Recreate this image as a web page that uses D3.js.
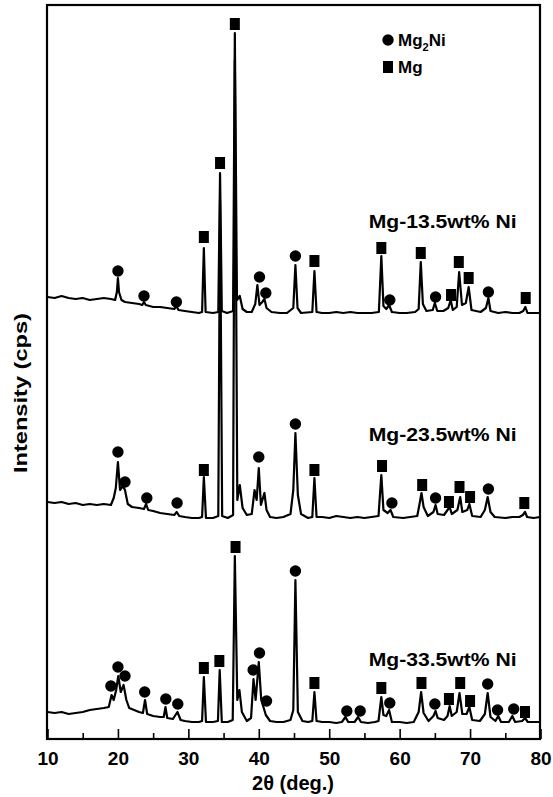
<!DOCTYPE html>
<html>
<head>
<meta charset="utf-8">
<script src="https://cdn.jsdelivr.net/npm/d3@7"></script>
<style>
  body { margin: 0; background: #fff; }
  svg { display: block; }
  text { font-family: "Liberation Sans", Arial, sans-serif; font-weight: bold; fill: #000; }
</style>
</head>
<body>
<div id="xrd"></div>
<script>

const FRAME_HEIGHT = 797;
const FRAME_WIDTH = 553;
const MARGINS = {left: 47, right: 13, top: 5, bottom: 58};

// 2theta ticks
const MAJOR_TICKS = [10, 20, 30, 40, 50, 60, 70, 80];
const MINOR_TICKS = [15, 25, 35, 45, 55, 65, 75];

// sample names, vertical offsets of each pattern (cps)
const SAMPLES = ["Mg-13.5wt% Ni", "Mg-23.5wt% Ni", "Mg-33.5wt% Ni"];
const OFFSETS = [4000, 2000, 0];

// [2theta, intensity]
const PATTERN_13 = [[10,420],[11,410],[12,430],[13,410],[14,400],[15,410],[16,390],[17,400],[18,410],[19,400],
  [19.6,390],[19.85,470],[20.0,610],[20.15,470],[20.5,390],[21,370],[22,360],[23,350],[23.45,340],[23.7,370],
  [23.95,340],[25,320],[26,320],[27,310],[28,300],[28.3,330],[28.6,290],[29.5,280],[30.5,270],[31.5,260],
  [31.95,270],[32.2,910],[32.45,270],[33.5,260],[34.25,270],[34.5,1660],[34.75,280],[35.5,260],[36.35,280],
  [36.6,3060],[36.9,390],[37.3,430],[37.7,300],[38.3,270],[39.0,270],[39.5,350],[39.8,540],[40.1,340],
  [40.5,370],[40.8,400],[41.1,310],[41.8,270],[43,260],[44,260],[44.9,310],[45.2,740],[45.5,310],[46,260],
  [47.6,270],[47.9,680],[48.2,270],[49,260],[50,260],[51,270],[52,260],[53,270],[54,260],[55,260],[56,260],
  [57.05,270],[57.4,830],[57.7,330],[58.1,300],[58.5,340],[58.9,270],[60,260],[61,260],[62.2,270],[62.7,300],
  [63.0,770],[63.3,350],[63.8,280],[64.7,290],[65.0,360],[65.35,280],[66.2,280],[66.9,310],[67.25,390],
  [67.55,290],[68.1,320],[68.45,670],[68.85,340],[69.4,360],[69.8,520],[70.2,290],[71.5,270],[72.25,310],
  [72.6,410],[72.9,280],[74,260],[75,270],[76,260],[77,260],[77.55,280],[77.85,320],[78.15,260],[79,260],[80,260]];

const PATTERN_23 = [[10,370],[11,360],[12,370],[13,350],[14,360],[15,340],[16,350],[17,340],[18,350],[19,340],
  [19.4,410],[19.7,510],[20.0,770],[20.3,490],[20.7,530],[21.0,490],[21.4,350],[22,320],[23,310],[23.7,300],
  [24.0,350],[24.3,290],[25,280],[26,260],[27,250],[28,240],[28.35,270],[28.7,230],[29.5,220],[30.5,210],
  [31.5,210],[31.95,220],[32.2,620],[32.5,210],[33.5,210],[34.25,230],[34.5,3390],[34.8,230],[35.6,210],
  [36.35,240],[36.6,4790],[36.95,390],[37.3,540],[37.7,310],[38.3,240],[39.0,250],[39.4,490],[39.7,390],
  [40.0,710],[40.3,340],[40.8,460],[41.1,290],[41.6,220],[42.5,210],[43.5,220],[44.5,250],[44.9,490],
  [45.2,1060],[45.55,440],[46.0,250],[47.0,210],[47.6,220],[47.9,610],[48.2,220],[49,220],[50,210],[51,230],
  [52,220],[53,210],[54,220],[55,210],[56,220],[57.0,230],[57.4,640],[57.7,290],[58.3,260],[58.7,290],
  [59.1,220],[60.5,210],[61.5,220],[62.5,230],[62.8,340],[63.1,460],[63.4,320],[64.0,230],[64.8,270],
  [65.1,340],[65.4,250],[66.3,240],[66.8,290],[67.1,320],[67.4,250],[68.2,290],[68.6,420],[68.9,270],
  [69.6,290],[69.9,350],[70.3,230],[71.5,220],[72.1,290],[72.5,420],[72.9,270],[73.5,220],[75,210],[76,220],
  [77,220],[77.5,240],[77.8,270],[78.1,220],[79,210],[80,220]];

const PATTERN_33 = [[10,270],[11,260],[12,270],[13,250],[14,260],[15,270],[16,290],[17,300],[18,310],[18.7,320],
  [19.1,440],[19.4,390],[19.75,490],[20.05,630],[20.4,470],[20.8,540],[21.2,390],[21.6,310],[22.3,290],
  [23.0,270],[23.55,260],[23.85,390],[24.15,250],[25,230],[26,220],[26.5,220],[26.75,320],[27.0,210],
  [27.8,200],[28.45,270],[28.9,190],[29.5,180],[30.5,170],[31.5,170],[31.95,180],[32.2,620],[32.5,170],
  [33.5,170],[34.2,180],[34.45,690],[34.75,170],[35.6,170],[36.3,190],[36.6,1830],[36.95,390],[37.25,490],
  [37.6,270],[38.3,180],[38.9,210],[39.25,600],[39.55,390],[40.0,770],[40.35,390],[40.7,310],[41.0,240],
  [41.6,180],[42.5,170],[43.5,170],[44.5,190],[44.9,290],[45.2,1590],[45.55,270],[46.2,180],[47.0,170],
  [47.6,180],[47.9,470],[48.2,180],[49,170],[50,170],[51,160],[51.8,170],[52.3,220],[52.7,170],[53.6,170],
  [54.1,220],[54.5,170],[55.5,160],[56.5,170],[57.0,180],[57.4,420],[57.7,240],[58.1,230],[58.5,290],
  [58.9,170],[60,170],[61,160],[62,170],[62.7,270],[63.05,470],[63.4,260],[64.1,180],[64.8,230],[65.1,280],
  [65.4,210],[66.3,190],[66.8,230],[67.1,330],[67.4,230],[68.1,270],[68.5,460],[68.9,250],[69.5,250],
  [69.9,320],[70.3,190],[71.4,180],[72.1,250],[72.5,460],[72.9,220],[73.6,180],[74.0,230],[74.4,170],
  [75.5,170],[76.0,230],[76.4,170],[77.4,180],[77.8,210],[78.2,170],[79,170],[80,170]];

// phase markers: [2theta, intensity of the symbol, phase]
const MARKS_13 = [[20.0,680,"Mg2Ni"],[23.7,430,"Mg2Ni"],[28.3,370,"Mg2Ni"],[32.2,1020,"Mg"],[34.5,1760,"Mg"],
  [36.6,3150,"Mg"],[40.1,620,"Mg2Ni"],[41.0,460,"Mg2Ni"],[45.2,830,"Mg2Ni"],[47.9,780,"Mg"],[57.4,910,"Mg"],
  [58.6,390,"Mg2Ni"],[63.0,860,"Mg"],[65.1,420,"Mg2Ni"],[67.3,440,"Mg"],[68.4,770,"Mg"],[69.8,610,"Mg"],
  [72.6,470,"Mg2Ni"],[77.9,410,"Mg"]];
const MARKS_23 = [[20.0,870,"Mg2Ni"],[21.0,570,"Mg2Ni"],[24.1,410,"Mg2Ni"],[28.4,360,"Mg2Ni"],[32.2,690,"Mg"],
  [40.0,820,"Mg2Ni"],[45.2,1150,"Mg2Ni"],[47.9,690,"Mg"],[57.5,730,"Mg"],[58.9,360,"Mg2Ni"],[63.2,540,"Mg"],
  [65.1,410,"Mg2Ni"],[67.0,370,"Mg"],[68.5,520,"Mg"],[70.0,420,"Mg"],[72.6,500,"Mg2Ni"],[77.7,360,"Mg"]];
const MARKS_33 = [[19.0,530,"Mg2Ni"],[20.0,720,"Mg2Ni"],[21.0,630,"Mg2Ni"],[23.8,470,"Mg2Ni"],[26.8,400,"Mg2Ni"],
  [28.5,350,"Mg2Ni"],[32.2,710,"Mg"],[34.4,780,"Mg"],[36.7,1920,"Mg"],[39.2,690,"Mg2Ni"],[40.1,860,"Mg2Ni"],
  [41.1,380,"Mg2Ni"],[45.2,1680,"Mg2Ni"],[47.9,560,"Mg"],[52.5,280,"Mg2Ni"],[54.4,280,"Mg2Ni"],[57.4,510,"Mg"],
  [58.6,360,"Mg2Ni"],[63.1,560,"Mg"],[65.0,350,"Mg2Ni"],[67.0,400,"Mg"],[68.6,560,"Mg"],[70.0,380,"Mg"],
  [72.5,550,"Mg2Ni"],[73.9,290,"Mg2Ni"],[76.2,300,"Mg2Ni"],[77.8,270,"Mg"]];

const PATTERNS = [PATTERN_13, PATTERN_23, PATTERN_33];
const MARKS = [MARKS_13, MARKS_23, MARKS_33];
// label anchor: [2theta, intensity of text baseline, same offsets as the pattern]
const LABEL_POS = [[55.6, 1110], [55.6, 980], [55.6, 730]];

const FRAME1 = d3.select("#xrd")
  .append("svg")
    .attr("height", FRAME_HEIGHT)
    .attr("width", FRAME_WIDTH);

const VIS_RIGHT = FRAME_WIDTH - MARGINS.right;
const VIS_BOTTOM = FRAME_HEIGHT - MARGINS.bottom;

var x = d3.scaleLinear()
  .domain([10, 80])
  .range([MARGINS.left + 0.5, VIS_RIGHT + 0.5]);

var y = d3.scaleLinear()
  .domain([0, 7340])
  .range([VIS_BOTTOM, MARGINS.top]);

// patterns
var line = d3.line()
  .x((d) => x(d[0]))
  .y((d) => y(d[1]));

PATTERNS.forEach((p, i) => {
  FRAME1.append("path")
    .datum(p.map((d) => [d[0], d[1] + OFFSETS[i]]))
    .attr("d", line)
    .attr("fill", "none")
    .attr("stroke", "#000")
    .attr("stroke-width", 2.2)
    .attr("stroke-linejoin", "round");
});

// phase symbols
function drawMark(g, px, py, phase) {
  if (phase == "Mg2Ni") {
    g.append("circle").attr("cx", px).attr("cy", py).attr("r", 5.7).attr("fill", "#000");
  } else {
    g.append("rect").attr("x", px - 5).attr("y", py - 6).attr("width", 10).attr("height", 12).attr("fill", "#000");
  }
}

var marks = FRAME1.append("g");
MARKS.forEach((m, i) => {
  m.forEach((d) => drawMark(marks, x(d[0]), y(d[1] + OFFSETS[i]), d[2]));
});

// sample labels
SAMPLES.forEach((s, i) => {
  FRAME1.append("text")
    .attr("x", x(LABEL_POS[i][0]))
    .attr("y", y(LABEL_POS[i][1] + OFFSETS[i]))
    .attr("font-size", 18)
    .attr("textLength", 148)
    .attr("lengthAdjust", "spacingAndGlyphs")
    .text(s);
});

// legend
drawMark(FRAME1, 388, 40, "Mg2Ni");
drawMark(FRAME1, 388, 67, "Mg");
var lt = FRAME1.append("text").attr("x", 398).attr("y", 46).attr("font-size", 17);
lt.append("tspan").text("Mg");
lt.append("tspan").attr("font-size", 11).attr("dy", 5).text("2");
lt.append("tspan").attr("dy", -5).text("Ni");
FRAME1.append("text").attr("x", 398).attr("y", 73).attr("font-size", 17).text("Mg");

// X axis, ticks inside
var xAxis = FRAME1.append("g")
  .attr("transform", "translate(0," + VIS_BOTTOM + ")")
  .call(d3.axisBottom(x).tickValues(MAJOR_TICKS).tickSizeInner(-10).tickSizeOuter(0).tickPadding(13).tickFormat(d3.format("d")));
xAxis.select(".domain").remove();
xAxis.selectAll("line").attr("stroke-width", 1.6);
xAxis.selectAll("text").attr("font-size", 19).attr("font-family", "Liberation Sans, Arial").attr("font-weight", "bold");

var xMinor = FRAME1.append("g")
  .attr("transform", "translate(0," + VIS_BOTTOM + ")")
  .call(d3.axisBottom(x).tickValues(MINOR_TICKS).tickSizeInner(-6).tickSizeOuter(0).tickFormat(""));
xMinor.select(".domain").remove();
xMinor.selectAll("line").attr("stroke-width", 1.6);

// frame
FRAME1.append("rect")
  .attr("x", MARGINS.left)
  .attr("y", MARGINS.top)
  .attr("width", VIS_RIGHT - MARGINS.left)
  .attr("height", VIS_BOTTOM - MARGINS.top)
  .attr("fill", "none")
  .attr("stroke", "#000")
  .attr("stroke-width", 2.2);

// axis titles
FRAME1.append("text")
  .attr("x", 293)
  .attr("y", 790)
  .attr("text-anchor", "middle")
  .attr("font-size", 20)
  .text("2\u03b8 (deg.)");

FRAME1.append("text")
  .attr("transform", "translate(27,393) rotate(-90)")
  .attr("text-anchor", "middle")
  .attr("font-size", 19)
  .attr("textLength", 160)
  .attr("lengthAdjust", "spacingAndGlyphs")
  .text("Intensity (cps)");

</script>
</body>
</html>
